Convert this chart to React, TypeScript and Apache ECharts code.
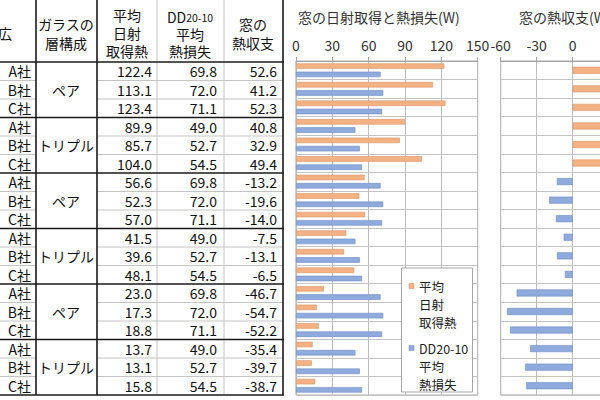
import React, { useEffect, useRef } from "react";
import * as echarts from "echarts";

const rowCompanies = [
  "A社", "B社", "C社", "A社", "B社", "C社",
  "A社", "B社", "C社", "A社", "B社", "C社",
  "A社", "B社", "C社", "A社", "B社", "C社",
];
const glassTypes = ["ペア", "トリプル", "ペア", "トリプル", "ペア", "トリプル"];
const solarGain = [
  122.4, 113.1, 123.4, 89.9, 85.7, 104.0,
  56.6, 52.3, 57.0, 41.5, 39.6, 48.1,
  23.0, 17.3, 18.8, 13.7, 13.1, 15.8,
];
const heatLoss = [
  69.8, 72.0, 71.1, 49.0, 52.7, 54.5,
  69.8, 72.0, 71.1, 49.0, 52.7, 54.5,
  69.8, 72.0, 71.1, 49.0, 52.7, 54.5,
];
const heatBalance = [
  52.6, 41.2, 52.3, 40.8, 32.9, 49.4,
  -13.2, -19.6, -14.0, -7.5, -13.1, -6.5,
  -46.7, -54.7, -52.2, -35.4, -39.7, -38.7,
];
const chartTitles = ["窓の日射取得と熱損失(W)", "窓の熱収支(W)"];
const seriesNames = ["平均日射取得熱", "DD20-10平均熱損失"];
const legendLines = [["平均", "日射", "取得熱"], ["DD20-10", "平均", "熱損失"]];
const headerGlass = ["ガラスの", "層構成"];
const headerGain = ["平均", "日射", "取得熱"];
const headerLoss = ["平均", "熱損失"];
const headerBalance = ["窓の", "熱収支"];
const headerFirst = "広";

const FONT = '"Noto Sans CJK JP", "Noto Sans", sans-serif';
const ORANGE = "#F4B183";
const ORANGE_B = "#D9966A";
const BLUE = "#8FAADC";
const BLUE_B = "#6F8CC4";

export default function App() {
  const ref = useRef<HTMLDivElement>(null);
  useEffect(() => {
    if (!ref.current) return;
    const chart = echarts.init(ref.current, undefined, { renderer: "svg" });

    const TOP = 62;
    const RH = 18.5;
    const graphics: any[] = [];
    const txt = (text: string, x: number, y: number, align: string, size = 14, extra: any = {}) => ({
      type: "text",
      z: 50,
      style: { text, x, y, align, verticalAlign: "middle", font: `${size}px ${FONT}`, fill: "#111", ...extra },
    });
    const line = (x1: number, y1: number, x2: number, y2: number, thick: boolean) => ({
      type: "line",
      z: thick ? 40 : 39,
      shape: { x1, y1, x2, y2 },
      style: { stroke: thick ? "#1a1a1a" : "#C4C4C4", lineWidth: thick ? 1.6 : 1 },
    });

    // header
    graphics.push(txt(headerFirst, 12, 33, "right"));
    headerGlass.forEach((t, i) => graphics.push(txt(t, 66, 24 + i * 18.5, "center")));
    headerGain.forEach((t, i) => graphics.push(txt(t, 127, 15 + i * 18, "center")));
    graphics.push({
      type: "text",
      z: 50,
      style: {
        text: "{a|DD}{b|20-10}",
        x: 190,
        y: 17,
        align: "center",
        verticalAlign: "middle",
        rich: {
          a: { font: `14px ${FONT}`, fill: "#111" },
          b: { font: `10.5px ${FONT}`, fill: "#111" },
        },
      },
    });
    headerLoss.forEach((t, i) => graphics.push(txt(t, 190, 34 + i * 17, "center")));
    headerBalance.forEach((t, i) => graphics.push(txt(t, 253, 24 + i * 18.5, "center")));

    // rows
    rowCompanies.forEach((c, i) => {
      const y = TOP + RH * (i + 0.5);
      graphics.push(txt(c, 31, y, "right"));
      graphics.push(txt(solarGain[i].toFixed(1), 152, y, "right"));
      graphics.push(txt(heatLoss[i].toFixed(1), 217, y, "right"));
      graphics.push(txt(heatBalance[i].toFixed(1), 277, y, "right"));
      if (i % 3 !== 2) {
        const yl = TOP + RH * (i + 1);
        graphics.push(line(0, yl, 36, yl, false));
        graphics.push(line(97, yl, 283, yl, false));
      }
    });
    glassTypes.forEach((g, k) => {
      graphics.push(txt(g, 66, TOP + RH * 3 * (k + 0.5), "center"));
    });
    for (let k = 0; k <= glassTypes.length; k++) {
      const y = TOP + RH * 3 * k;
      graphics.push(line(0, y, 284, y, true));
    }
    const bottom = TOP + RH * rowCompanies.length;
    [36, 97, 283].forEach((x) => graphics.push(line(x, 0, x, bottom, true)));
    [157, 224].forEach((x) => graphics.push(line(x, 0, x, bottom, false)));

    // titles
    graphics.push(txt(chartTitles[0], 298, 17, "left", 14, { fill: "#333" }));
    graphics.push(txt(chartTitles[1], 519, 17, "left", 14, { fill: "#333" }));

    // legend box
    graphics.push({
      type: "rect",
      z: 100,
      shape: { x: 401.5, y: 268, width: 71, height: 124 },
      style: { fill: "#fff", stroke: "#A6A6A6", lineWidth: 1 },
    });
    const legendColors = [[ORANGE, ORANGE_B], [BLUE, BLUE_B]];
    legendLines.forEach((lines, s) => {
      const y0 = s === 0 ? 286 : 348;
      graphics.push({
        type: "rect",
        z: 101,
        shape: { x: 409, y: y0 - 2.5, width: 5, height: 5 },
        style: { fill: legendColors[s][0], stroke: legendColors[s][1], lineWidth: 0.5 },
      });
      lines.forEach((t, j) => {
        graphics.push({
          type: "text",
          z: 101,
          style: {
            text: t,
            x: 419,
            y: y0 + j * 18,
            align: "left",
            verticalAlign: "middle",
            font: `12.5px ${FONT}`,
            fill: "#222",
          },
        });
      });
    });

    const catAxis = (gridIndex: number) => ({
      type: "category",
      gridIndex,
      data: rowCompanies,
      inverse: true,
      axisLabel: { show: false },
      axisTick: { show: false },
      axisLine: { show: false },
      splitLine: { show: true, lineStyle: { color: "#C4C4C4", width: 1 } },
    });
    const valAxis = (gridIndex: number, min: number, max: number) => ({
      type: "value",
      gridIndex,
      position: "top",
      min,
      max,
      interval: 30,
      axisLine: { show: true, lineStyle: { color: "#A6A6A6" } },
      axisTick: { show: true, length: 4, lineStyle: { color: "#A6A6A6" } },
      axisLabel: { fontSize: 14, fontFamily: FONT, color: "#333", margin: 9 },
      splitLine: { show: true, lineStyle: { color: "#BDBDBD", width: 1 } },
    });

    chart.setOption({
      animation: false,
      backgroundColor: "#fff",
      grid: [
        {
          left: 296, top: 61, width: 181.7, height: 334, show: true,
          borderColor: "#A6A6A6", borderWidth: 1, containLabel: false, outerBoundsMode: "none",
        },
        {
          left: 500.7, top: 61, width: 144, height: 334, show: true,
          borderColor: "#A6A6A6", borderWidth: 1, containLabel: false, outerBoundsMode: "none",
        },
      ],
      xAxis: [valAxis(0, 0, 150), valAxis(1, -60, 60)],
      yAxis: [catAxis(0), catAxis(1)],
      series: [
        {
          name: seriesNames[0],
          type: "bar",
          xAxisIndex: 0,
          yAxisIndex: 0,
          data: solarGain,
          barWidth: 5.5,
          barGap: "50%",
          itemStyle: { color: ORANGE, borderColor: ORANGE_B, borderWidth: 0.6 },
        },
        {
          name: seriesNames[1],
          type: "bar",
          xAxisIndex: 0,
          yAxisIndex: 0,
          data: heatLoss,
          barWidth: 5.5,
          barGap: "50%",
          itemStyle: { color: BLUE, borderColor: BLUE_B, borderWidth: 0.6 },
        },
        {
          name: "窓の熱収支",
          type: "bar",
          xAxisIndex: 1,
          yAxisIndex: 1,
          barWidth: 7,
          data: heatBalance.map((v) => ({
            value: v,
            itemStyle: v >= 0
              ? { color: ORANGE, borderColor: ORANGE_B, borderWidth: 0.6 }
              : { color: BLUE, borderColor: BLUE_B, borderWidth: 0.6 },
          })),
        },
      ],
      graphic: graphics,
    });
    return () => chart.dispose();
  }, []);
  return (
    <div
      ref={ref}
      style={{ position: "absolute", left: 0, top: 0, width: 600, height: 400, background: "#fff" }}
    />
  );
}
